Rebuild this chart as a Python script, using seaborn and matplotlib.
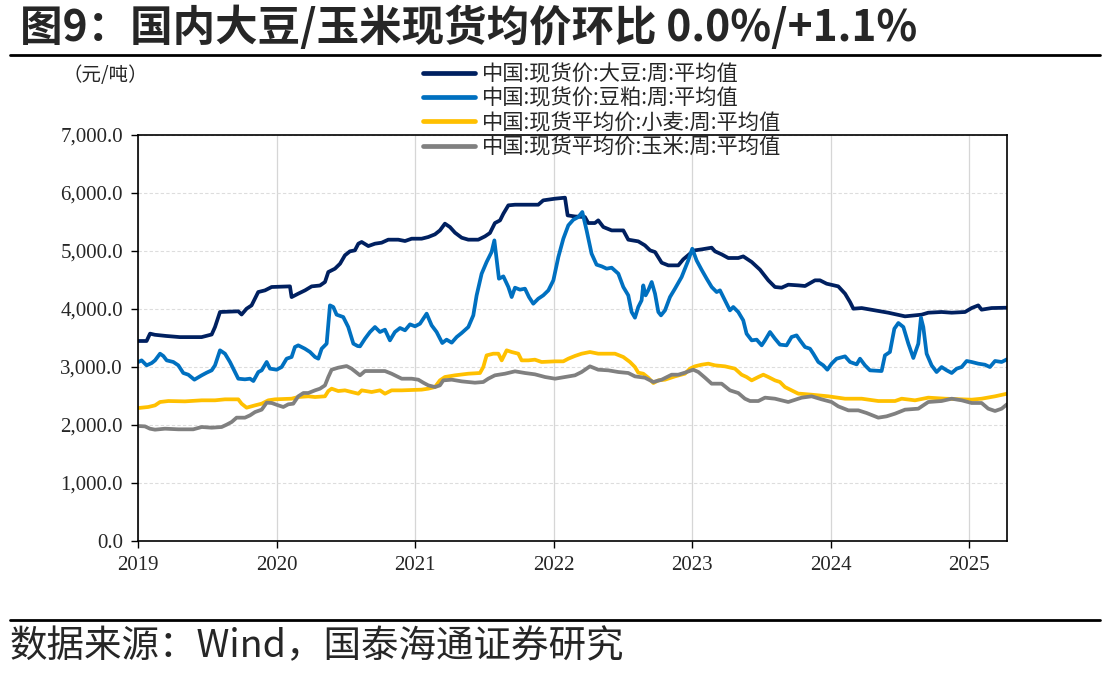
import numpy as np
import pandas as pd
import matplotlib
matplotlib.use("Agg")
import matplotlib.pyplot as plt
import seaborn as sns
from matplotlib.lines import Line2D
from matplotlib.ticker import FuncFormatter

# 数据（从图中读取的近似值，x 为小数年份）
soy_x = [2019.0, 2019.06, 2019.085, 2019.12, 2019.2, 2019.3, 2019.457, 2019.53, 2019.554, 2019.59,
         2019.722, 2019.746, 2019.782, 2019.818, 2019.866, 2019.915, 2019.963, 2020.095, 2020.107, 2020.155,
         2020.204, 2020.252, 2020.312, 2020.348, 2020.372, 2020.42, 2020.457, 2020.492, 2020.528, 2020.564,
         2020.589, 2020.613, 2020.661, 2020.709, 2020.757, 2020.805, 2020.877, 2020.926, 2020.974, 2021.046,
         2021.094, 2021.142, 2021.178, 2021.214, 2021.25, 2021.287, 2021.335, 2021.383, 2021.455, 2021.503,
         2021.539, 2021.575, 2021.612, 2021.636, 2021.672, 2021.72, 2021.888, 2021.924, 2022.009, 2022.081,
         2022.1, 2022.153, 2022.225, 2022.249, 2022.297, 2022.321, 2022.358, 2022.418, 2022.502, 2022.538,
         2022.61, 2022.658, 2022.695, 2022.731, 2022.779, 2022.827, 2022.899, 2022.935, 2022.983, 2023.019,
         2023.068, 2023.14, 2023.164, 2023.212, 2023.26, 2023.332, 2023.368, 2023.429, 2023.489, 2023.549,
         2023.597, 2023.645, 2023.693, 2023.766, 2023.814, 2023.886, 2023.922, 2023.97, 2024.054, 2024.103,
         2024.139, 2024.163, 2024.223, 2024.319, 2024.415, 2024.536, 2024.656, 2024.704, 2024.8, 2024.873,
         2024.969, 2025.017, 2025.065, 2025.089, 2025.161, 2025.272]
soy = [3443, 3443, 3570, 3550, 3530, 3510, 3510, 3555, 3684, 3943,
       3955, 3900, 4000, 4057, 4287, 4316, 4374, 4385, 4200, 4259,
       4316, 4385, 4400, 4460, 4632, 4690, 4776, 4920, 4989, 5006,
       5121, 5150, 5080, 5121, 5138, 5190, 5190, 5167, 5207, 5207,
       5236, 5282, 5350, 5466, 5408, 5310, 5224, 5190, 5190, 5247,
       5305, 5477, 5523, 5638, 5782, 5793, 5793, 5868, 5897, 5914,
       5609, 5590, 5580, 5477, 5477, 5523, 5408, 5350, 5350, 5190,
       5161, 5092, 5006, 4977, 4793, 4747, 4747, 4851, 4948, 5006,
       5023, 5052, 4989, 4937, 4874, 4874, 4902, 4805, 4672, 4489,
       4374, 4362, 4414, 4402, 4391, 4489, 4489, 4431, 4385, 4259,
       4115, 4000, 4011, 3971, 3931, 3868, 3897, 3931, 3943, 3931,
       3943, 4011, 4057, 3983, 4011, 4017]

meal_x = [2019.0, 2019.024, 2019.06, 2019.097, 2019.121, 2019.157, 2019.181, 2019.205, 2019.253, 2019.289,
          2019.325, 2019.361, 2019.405, 2019.458, 2019.494, 2019.53, 2019.554, 2019.59, 2019.626, 2019.662,
          2019.698, 2019.722, 2019.77, 2019.807, 2019.831, 2019.867, 2019.891, 2019.927, 2019.951, 2019.999,
          2020.035, 2020.071, 2020.107, 2020.131, 2020.155, 2020.203, 2020.24, 2020.276, 2020.3, 2020.324,
          2020.36, 2020.384, 2020.408, 2020.432, 2020.48, 2020.516, 2020.553, 2020.584, 2020.601, 2020.637,
          2020.673, 2020.709, 2020.745, 2020.781, 2020.817, 2020.853, 2020.89, 2020.926, 2020.962, 2020.998,
          2021.034, 2021.082, 2021.118, 2021.154, 2021.195, 2021.226, 2021.263, 2021.299, 2021.335, 2021.383,
          2021.419, 2021.443, 2021.479, 2021.515, 2021.551, 2021.571, 2021.588, 2021.604, 2021.636, 2021.672,
          2021.696, 2021.72, 2021.756, 2021.792, 2021.821, 2021.852, 2021.888, 2021.924, 2021.961, 2021.997,
          2022.033, 2022.069, 2022.105, 2022.141, 2022.177, 2022.206, 2022.237, 2022.273, 2022.309, 2022.346,
          2022.382, 2022.418, 2022.466, 2022.502, 2022.538, 2022.562, 2022.586, 2022.61, 2022.634, 2022.646,
          2022.663, 2022.682, 2022.707, 2022.731, 2022.755, 2022.774, 2022.803, 2022.839, 2022.875, 2022.923,
          2022.971, 2023.0, 2023.031, 2023.067, 2023.104, 2023.14, 2023.176, 2023.2, 2023.236, 2023.272,
          2023.296, 2023.332, 2023.368, 2023.392, 2023.429, 2023.465, 2023.501, 2023.525, 2023.561, 2023.597,
          2023.633, 2023.681, 2023.717, 2023.753, 2023.778, 2023.814, 2023.85, 2023.874, 2023.91, 2023.946,
          2023.975, 2024.006, 2024.042, 2024.103, 2024.139, 2024.187, 2024.211, 2024.247, 2024.283, 2024.367,
          2024.391, 2024.427, 2024.459, 2024.488, 2024.524, 2024.56, 2024.596, 2024.632, 2024.651, 2024.668,
          2024.692, 2024.728, 2024.764, 2024.8, 2024.837, 2024.873, 2024.909, 2024.945, 2024.981, 2025.017,
          2025.065, 2025.113, 2025.149, 2025.186, 2025.234, 2025.272]
meal = [3081, 3109, 3023, 3063, 3109, 3224, 3184, 3109, 3081, 3023,
        2891, 2862, 2776, 2851, 2897, 2937, 3023, 3282, 3224, 3081,
        2908, 2793, 2782, 2793, 2753, 2908, 2937, 3081, 2966, 2948,
        2994, 3138, 3167, 3339, 3368, 3310, 3253, 3167, 3138, 3310,
        3397, 4057, 4029, 3897, 3856, 3684, 3397, 3356, 3351, 3483,
        3598, 3684, 3598, 3638, 3454, 3598, 3667, 3627, 3730, 3696,
        3741, 3914, 3713, 3598, 3408, 3466, 3414, 3512, 3581, 3684,
        3885, 4230, 4603, 4805, 4977, 5178, 4833, 4517, 4557, 4374,
        4201, 4362, 4328, 4345, 4201, 4086, 4172, 4230, 4316, 4489,
        4891, 5207, 5437, 5534, 5580, 5667, 5350, 4948, 4759, 4730,
        4690, 4707, 4604, 4374, 4230, 3943, 3845, 4029, 4144, 4402,
        4230, 4316, 4460, 4259, 3943, 3885, 3971, 4201, 4345, 4546,
        4833, 5034, 4833, 4672, 4517, 4374, 4287, 4316, 4144, 3971,
        4029, 3943, 3799, 3569, 3454, 3466, 3368, 3454, 3598, 3483,
        3380, 3368, 3512, 3540, 3454, 3339, 3310, 3224, 3081, 3023,
        2948, 3052, 3138, 3178, 3081, 3040, 3138, 3023, 2937, 2925,
        3195, 3253, 3655, 3753, 3684, 3397, 3150, 3397, 3845, 3684,
        3224, 3023, 2908, 2994, 2937, 2891, 2966, 2994, 3098, 3081,
        3052, 3034, 2994, 3098, 3081, 3127]

wheat_x = [2019.0, 2019.072, 2019.121, 2019.157, 2019.217, 2019.337, 2019.458, 2019.554, 2019.626, 2019.722,
           2019.746, 2019.782, 2019.843, 2019.891, 2019.939, 2019.987, 2020.107, 2020.155, 2020.228, 2020.276,
           2020.348, 2020.372, 2020.396, 2020.444, 2020.492, 2020.54, 2020.589, 2020.613, 2020.685, 2020.745,
           2020.781, 2020.829, 2020.902, 2020.974, 2021.046, 2021.094, 2021.142, 2021.178, 2021.214, 2021.287,
           2021.383, 2021.467, 2021.491, 2021.515, 2021.563, 2021.6, 2021.624, 2021.66, 2021.696, 2021.744,
           2021.768, 2021.816, 2021.864, 2021.912, 2022.009, 2022.069, 2022.105, 2022.153, 2022.201, 2022.261,
           2022.321, 2022.442, 2022.502, 2022.55, 2022.586, 2022.61, 2022.646, 2022.682, 2022.719, 2022.755,
           2022.803, 2022.875, 2022.947, 2022.983, 2023.019, 2023.067, 2023.116, 2023.164, 2023.236, 2023.308,
           2023.356, 2023.392, 2023.429, 2023.477, 2023.513, 2023.549, 2023.597, 2023.633, 2023.669, 2023.717,
           2023.766, 2023.778, 2023.862, 2023.982, 2024.103, 2024.223, 2024.343, 2024.464, 2024.512, 2024.608,
           2024.704, 2024.825, 2024.945, 2025.017, 2025.089, 2025.186, 2025.272]
wheat = [2287, 2305, 2333, 2391, 2408, 2402, 2420, 2420, 2437, 2437,
         2362, 2293, 2333, 2362, 2420, 2437, 2448, 2477, 2489, 2477,
         2489, 2580, 2621, 2580, 2592, 2563, 2534, 2592, 2563, 2592,
         2534, 2592, 2592, 2598, 2604, 2621, 2649, 2764, 2822, 2851,
         2879, 2891, 2994, 3195, 3224, 3224, 3109, 3282, 3253, 3224,
         3109, 3109, 3121, 3081, 3092, 3092, 3138, 3185, 3224, 3253,
         3224, 3224, 3167, 3081, 2994, 2897, 2879, 2810, 2718, 2764,
         2776, 2833, 2879, 2966, 3006, 3034, 3052, 3023, 3006, 2966,
         2862, 2822, 2764, 2822, 2862, 2822, 2764, 2736, 2649, 2592,
         2534, 2534, 2517, 2489, 2448, 2448, 2408, 2408, 2448, 2420,
         2466, 2448, 2437, 2431, 2448, 2489, 2534]

corn_x = [2019.0, 2019.048, 2019.084, 2019.121, 2019.193, 2019.289, 2019.397, 2019.458, 2019.53, 2019.602,
          2019.638, 2019.674, 2019.71, 2019.77, 2019.807, 2019.843, 2019.891, 2019.927, 2019.963, 2020.011,
          2020.047, 2020.083, 2020.119, 2020.155, 2020.192, 2020.228, 2020.276, 2020.312, 2020.348, 2020.372,
          2020.396, 2020.444, 2020.504, 2020.54, 2020.601, 2020.637, 2020.709, 2020.781, 2020.829, 2020.902,
          2020.974, 2021.022, 2021.058, 2021.094, 2021.142, 2021.178, 2021.202, 2021.263, 2021.335, 2021.431,
          2021.491, 2021.527, 2021.575, 2021.648, 2021.72, 2021.792, 2021.864, 2021.937, 2022.009, 2022.081,
          2022.153, 2022.201, 2022.261, 2022.321, 2022.394, 2022.466, 2022.538, 2022.586, 2022.658, 2022.719,
          2022.779, 2022.851, 2022.899, 2022.947, 2023.007, 2023.044, 2023.092, 2023.14, 2023.212, 2023.272,
          2023.332, 2023.38, 2023.417, 2023.477, 2023.525, 2023.597, 2023.693, 2023.766, 2023.79, 2023.862,
          2023.934, 2024.006, 2024.054, 2024.127, 2024.199, 2024.259, 2024.343, 2024.403, 2024.464, 2024.536,
          2024.632, 2024.704, 2024.8, 2024.873, 2024.945, 2025.017, 2025.089, 2025.137, 2025.186, 2025.234,
          2025.272]
corn = [1977, 1971, 1931, 1914, 1931, 1920, 1920, 1960, 1948, 1960,
        2000, 2046, 2121, 2121, 2161, 2218, 2259, 2380, 2374, 2333,
        2305, 2351, 2362, 2489, 2546, 2546, 2592, 2621, 2678, 2822,
        2948, 2983, 3011, 2966, 2851, 2925, 2925, 2925, 2879, 2793,
        2793, 2776, 2724, 2678, 2649, 2678, 2764, 2776, 2747, 2724,
        2736, 2793, 2851, 2879, 2920, 2891, 2868, 2822, 2793, 2822,
        2851, 2908, 3006, 2948, 2937, 2908, 2891, 2833, 2810, 2736,
        2776, 2862, 2862, 2897, 2948, 2908, 2810, 2707, 2707, 2592,
        2546, 2448, 2408, 2408, 2466, 2448, 2391, 2448, 2466, 2489,
        2437, 2391, 2316, 2247, 2247, 2201, 2121, 2144, 2190, 2259,
        2276, 2391, 2408, 2448, 2420, 2374, 2374, 2276, 2236, 2276,
        2351]

labels = ["中国:现货价:大豆:周:平均值", "中国:现货价:豆粕:周:平均值",
          "中国:现货平均价:小麦:周:平均值", "中国:现货平均价:玉米:周:平均值"]
colors = ["#002060", "#0070C0", "#FFC000", "#808080"]
years = [2019, 2020, 2021, 2022, 2023, 2024, 2025]

sns.set_style("ticks")
cjk = ["Noto Sans CJK SC", "DejaVu Sans"]
serif = ["Liberation Serif", "DejaVu Serif"]
plt.rcParams["font.family"] = cjk

fig = plt.figure(figsize=(11.08, 6.8), dpi=100)
ax = fig.add_axes([0.1248, 0.2049, 0.7840, 0.5970])

series = [(soy_x, soy), (meal_x, meal), (wheat_x, wheat), (corn_x, corn)]
for (xs, ys), lab, c in zip(series, labels, colors):
    sns.lineplot(x=xs, y=ys, ax=ax, color=c, linewidth=2.7, label=lab)

ax.set_xlim(2019, 2025.272)
ax.set_ylim(0, 7000)
ax.set_yticks(np.arange(0, 7001, 1000))
ax.yaxis.set_major_formatter(FuncFormatter(lambda v, p: f"{v:,.1f}"))
ax.set_xticks(years)
ax.set_xticklabels([str(y) for y in years])
for lbl in ax.get_xticklabels() + ax.get_yticklabels():
    lbl.set_family(serif)
    lbl.set_fontsize(15)
ax.tick_params(axis="both", direction="out", length=5, width=1, color="black", pad=6)
ax.grid(axis="y", color="#dddddd", linestyle=(0, (3, 2)), linewidth=0.8)
ax.grid(axis="x", color="#d6d6d6", linestyle="-", linewidth=0.9)
ax.set_axisbelow(True)
for s in ax.spines.values():
    s.set_visible(True)
    s.set_color("black")
    s.set_linewidth(1.2)
ax.set_xlabel("")
ax.set_ylabel("")

ax.legend(loc="upper left", bbox_to_anchor=(412 / 1108, 1 - 53 / 680),
          bbox_transform=fig.transFigure, frameon=False, fontsize=15.3,
          handlelength=2.45, handletextpad=0.35, labelspacing=0.1, borderpad=0)
for h in ax.get_legend().get_lines():
    h.set_linewidth(3.4)

# 标题、单位、来源
fig.text(20 / 1108, 1 - 28 / 680, "图9：国内大豆/玉米现货均价环比 0.0%/+1.1%",
         fontsize=30.6, fontweight="bold", va="center", ha="left")
fig.add_artist(Line2D([10 / 1108, 1100 / 1108], [1 - 55 / 680, 1 - 55 / 680],
                      color="black", linewidth=2, transform=fig.transFigure))
fig.text(63 / 1108, 1 - 75 / 680, "（元/吨）", fontsize=14, va="center", ha="left")
fig.add_artist(Line2D([10 / 1108, 1100 / 1108], [1 - 620 / 680, 1 - 620 / 680],
                      color="black", linewidth=2, transform=fig.transFigure))
fig.text(10 / 1108, 1 - 647 / 680, "数据来源：Wind，国泰海通证券研究",
         fontsize=27, va="center", ha="left")

fig.savefig("out.png", dpi=100)
